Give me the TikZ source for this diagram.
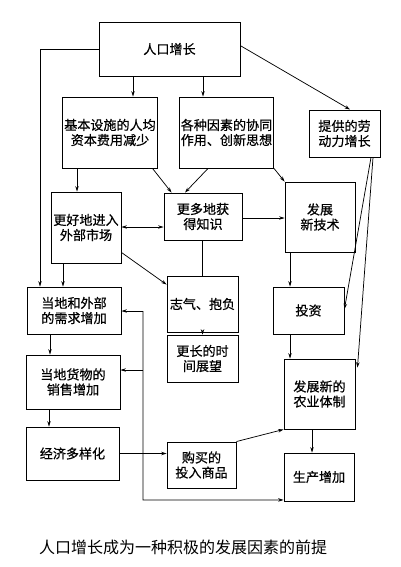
\documentclass[tikz,border=0pt]{standalone}
\usepackage{fontspec}
\newfontfamily\cjk{Noto Sans CJK SC}[FakeBold=0.6]
\newfontfamily\cjkcap{Noto Sans CJK SC}
\usetikzlibrary{arrows.meta,calc}
\begin{document}
\begin{tikzpicture}[x=0.75pt,y=-0.75pt,
  box/.style={draw,line width=0.7pt,align=center,inner sep=1pt,
    font=\cjk\fontsize{9.8}{11.3}\selectfont},
  arr/.style={line width=0.55pt,-{Stealth[length=4pt,width=2.6pt]}},
  dbl/.style={line width=0.55pt,{Stealth[length=4pt,width=2.6pt]}-{Stealth[length=4pt,width=2.6pt]}},
  ln/.style={line width=0.55pt}]
\useasboundingbox (0,0) rectangle (400,567);
% boxes
\node[box,minimum width=105.75pt,minimum height=40.5pt] (pop) at (169.5,49) {人口增长};
\node[box,minimum width=70.5pt,minimum height=53.25pt] (infra) at (110,132.5) {基本设施的人均\\资本费用减少};
\node[box,minimum width=69.75pt,minimum height=53.25pt] (syn) at (226.5,132.5) {各种因素的协同\\作用、创新思想};
\node[box,minimum width=53.25pt,minimum height=35.25pt] (labor) at (344.5,133.5) {提供的劳\\动力增长};
\node[box,minimum width=52.5pt,minimum height=53.25pt] (market) at (86,227.5) {更好地进入\\外部市场};
\node[box,minimum width=58.5pt,minimum height=35.25pt] (know) at (203,216.5) {更多地获\\得知识};
\node[box,minimum width=52.5pt,minimum height=52.5pt] (tech) at (320,217) {发展\\新技术};
\node[box,minimum width=53.25pt,minimum height=42pt] (amb) at (202.5,304) {志气、抱负};
\node[box,minimum width=70.5pt,minimum height=35.25pt] (demand) at (74,310.5) {当地和外部\\的需求增加};
\node[box,minimum width=53.25pt,minimum height=35.25pt] (invest) at (308.5,310.5) {投资};
\node[box,minimum width=53.25pt,minimum height=35.25pt] (longer) at (202.5,358.5) {更长的时\\间展望};
\node[box,minimum width=70.5pt,minimum height=40.5pt] (sales) at (73,382) {当地货物的\\销售增加};
\node[box,minimum width=53.25pt,minimum height=52.5pt] (agri) at (319.5,394) {发展新的\\农业体制};
\node[box,minimum width=69.75pt,minimum height=39.75pt] (div) at (72.5,453.5) {经济多样化};
\node[box,minimum width=51.75pt,minimum height=34.5pt] (buy) at (201.5,465) {购买的\\投入商品};
\node[box,minimum width=52.5pt,minimum height=36pt] (prod) at (319,477) {生产增加};
\node[font=\cjkcap\fontsize{12}{14}\selectfont] (cap) at (183,547) {人口增长成为一种积极的发展因素的前提};
% column helpers
\coordinate (c40) at (40,0);
\coordinate (c49) at (49,0);
\coordinate (c50) at (50,0);
\coordinate (c63) at (63,0);
\coordinate (c77) at (77,0);
\coordinate (c133) at (133,0);
\coordinate (c185) at (185,0);
\coordinate (c203) at (203,0);
\coordinate (c208) at (208,0);
\coordinate (c290) at (290,0);
\coordinate (c312) at (312,0);
\coordinate (c350) at (350,0);
\coordinate (c371) at (371,0);
\coordinate (c373) at (373,0);
\coordinate (jA) at (143,311);
\coordinate (jB) at (143,370);
\coordinate (jC) at (143,500);
% connectors
\draw[arr] (pop.west) -| (demand.north -| c40);
\draw[arr] (pop.south -| c133) -- (infra.north -| c133);
\draw[arr] (pop.south -| c203) -- (syn.north -| c203);
\draw[arr] ($(pop.north east)!0.44!(pop.south east)$) -- (labor.north -| c350);
\draw[arr] (infra.south -| c77) -- (market.north -| c77);
\draw[arr] ($(infra.south east)+(-5,0)$) -- ($(know.north west)+(8,0)$);
\draw[arr] (syn.south -| c208) -- (know.north -| c185);
\draw[arr] (syn.south east) -- (tech.north west);
\draw[arr] (labor.south -| c371) -- ($(invest.east)+(0,-1.5)$);
\draw[arr] (labor.south -| c373) -- ($(agri.north east)+(2,9)$);
\draw[dbl] (market.east |- 0,227) -- (know.west |- 0,227);
\draw[arr] (know.east |- 0,218) -- (tech.west |- 0,218);
\draw[arr] ($(market.south east)+(0,-11)$) -- ($(amb.north west)+(0,9)$);
\draw[ln] (amb.north |- know.south) -- (amb.north);
\draw[arr] (amb.south) -- (longer.north);
\draw[arr] (market.south -| c63) -- (demand.north -| c63);
\draw[arr] (tech.south -| c290) -- (invest.north -| c290);
\draw[arr] (invest.south -| c290) -- (agri.north -| c290);
\draw[arr] (demand.south -| c50) -- (sales.north -| c50);
\draw[arr] (sales.south -| c49) -- (div.north -| c49);
\draw[arr] (div.east) -- (div.east -| buy.west);
\draw[arr] (buy.north east) -- (agri.south west);
\draw[arr] (agri.south -| c312) -- (prod.north -| c312);
\draw[arr] (jA) -- (jA -| demand.east);
\draw[arr] (jB) -- (jB -| sales.east);
\draw[arr] (jA) -- (jC) -- ($(prod.south west)+(0,-1.5)$);
\end{tikzpicture}
\end{document}
